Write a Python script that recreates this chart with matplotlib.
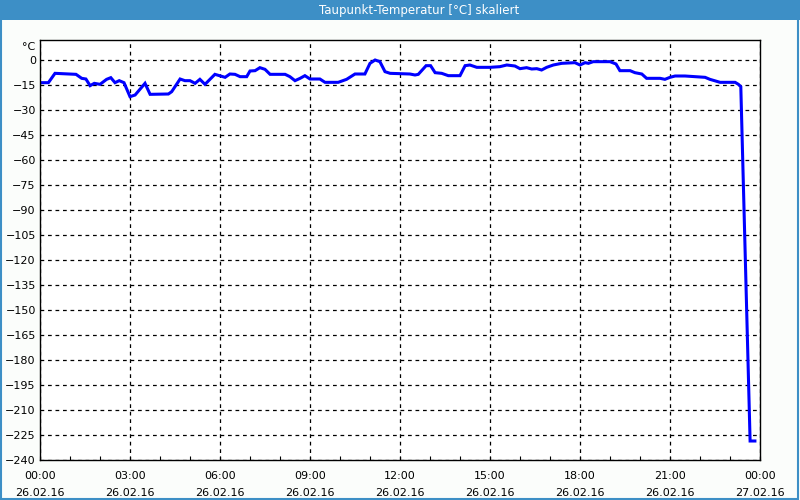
import matplotlib
matplotlib.use("Agg")
import matplotlib.pyplot as plt
from matplotlib.patches import Rectangle
from matplotlib.ticker import MultipleLocator

plt.rcParams['font.family'] = ['DejaVu Sans']

# hours since 26.02.16 00:00, dew point in degC
hours = [0.0, 0.28, 0.5, 1.2, 1.39, 1.53, 1.67, 1.81, 2.0, 2.22, 2.36, 2.5, 2.64, 2.8,
         3.0, 3.17, 3.5, 3.67, 4.28, 4.39, 4.67, 4.83, 5.0, 5.17, 5.33, 5.5, 5.83,
         6.17, 6.33, 6.5, 6.67, 6.89, 7.0, 7.17, 7.33, 7.5, 7.67, 8.17, 8.33, 8.5,
         8.67, 8.83, 9.0, 9.33, 9.5, 9.94, 10.22, 10.5, 10.83, 11.0, 11.17, 11.33,
         11.5, 11.67, 12.33, 12.5, 12.61, 12.72, 12.87, 13.02, 13.17, 13.39, 13.61,
         14.0, 14.17, 14.33, 14.56, 15.0, 15.33, 15.56, 15.83, 16.0, 16.22, 16.39,
         16.56, 16.72, 16.89, 17.11, 17.39, 17.83, 18.0, 18.17, 18.28, 18.44, 19.0,
         19.2, 19.33, 19.67, 19.83, 20.06, 20.22, 20.67, 20.83, 21.0, 21.17, 21.5,
         22.17, 22.33, 22.67, 23.17, 23.28, 23.36, 23.67, 23.83]
temps = [-13.6, -13.6, -8.0, -8.6, -11.0, -11.4, -15.4, -14.0, -14.6, -11.6, -10.6, -13.6, -12.4, -13.6,
         -22.0, -21.0, -14.0, -20.6, -20.4, -19.0, -11.4, -12.4, -12.4, -14.0, -11.6, -14.6, -8.6,
         -10.4, -8.4, -8.6, -10.0, -10.0, -6.6, -6.4, -4.6, -5.6, -8.6, -8.6, -10.0, -12.4,
         -11.0, -9.4, -11.4, -11.4, -13.4, -13.4, -11.6, -8.4, -8.4, -2.0, 0.0, -1.0,
         -7.0, -8.0, -8.4, -9.0, -8.6, -6.4, -3.4, -3.4, -7.6, -8.0, -9.4,
         -9.4, -3.4, -3.0, -4.4, -4.4, -4.0, -3.0, -3.6, -5.2, -4.6, -5.4,
         -5.2, -6.0, -4.4, -3.0, -2.0, -1.6, -3.0, -1.6, -2.0, -1.0, -1.0,
         -2.4, -6.4, -6.4, -7.6, -8.4, -11.0, -11.0, -11.6, -10.4, -9.6, -9.6,
         -10.4, -11.6, -13.4, -13.4, -14.6, -16.0, -228.6, -228.6]

xticks = [0, 3, 6, 9, 12, 15, 18, 21, 24]
xlabels = ["00:00\n26.02.16", "03:00\n26.02.16", "06:00\n26.02.16", "09:00\n26.02.16",
           "12:00\n26.02.16", "15:00\n26.02.16", "18:00\n26.02.16", "21:00\n26.02.16",
           "00:00\n27.02.16"]
yticks = list(range(0, -241, -15))

blue = '#3d8fc6'
bg = '#fbfdfb'

fig = plt.figure(figsize=(8, 5), dpi=100, facecolor=bg)
# title bar and outer frame
fig.patches.append(Rectangle((0, 0.96), 1, 0.04, transform=fig.transFigure,
                             facecolor=blue, edgecolor='none', zorder=0))
fig.patches.append(Rectangle((0.001, 0.002), 0.997, 0.996, transform=fig.transFigure,
                             facecolor='none', edgecolor=blue, lw=1.5, zorder=5))
fig.text(0.524, 0.979, "Taupunkt-Temperatur [°C] skaliert", color='white',
         ha='center', va='center', fontsize=8.5)

ax = fig.add_axes([0.05, 0.08, 0.90, 0.84])
ax.set_facecolor('white')
ax.plot(hours, temps, color='#0000ff', lw=2.2, solid_joinstyle='miter')

ax.set_xlim(0, 24)
ax.set_ylim(-240, 12)
ax.set_xticks(xticks)
ax.set_xticklabels(xlabels, linespacing=1.9)
ax.xaxis.set_minor_locator(MultipleLocator(1))
ax.set_yticks(yticks)
ax.grid(True, color='black', ls=(0, (3, 3)), lw=0.9)
ax.tick_params(axis='x', which='both', direction='in', length=3, width=0.8,
               labelsize=8, pad=8)
ax.tick_params(axis='y', length=0, labelsize=8, pad=3)
for s in ax.spines.values():
    s.set_linewidth(1.0)
ax.text(-0.15, 8, "°C", ha='right', va='center', fontsize=8)

fig.savefig("out.png", dpi=100, facecolor=bg)
